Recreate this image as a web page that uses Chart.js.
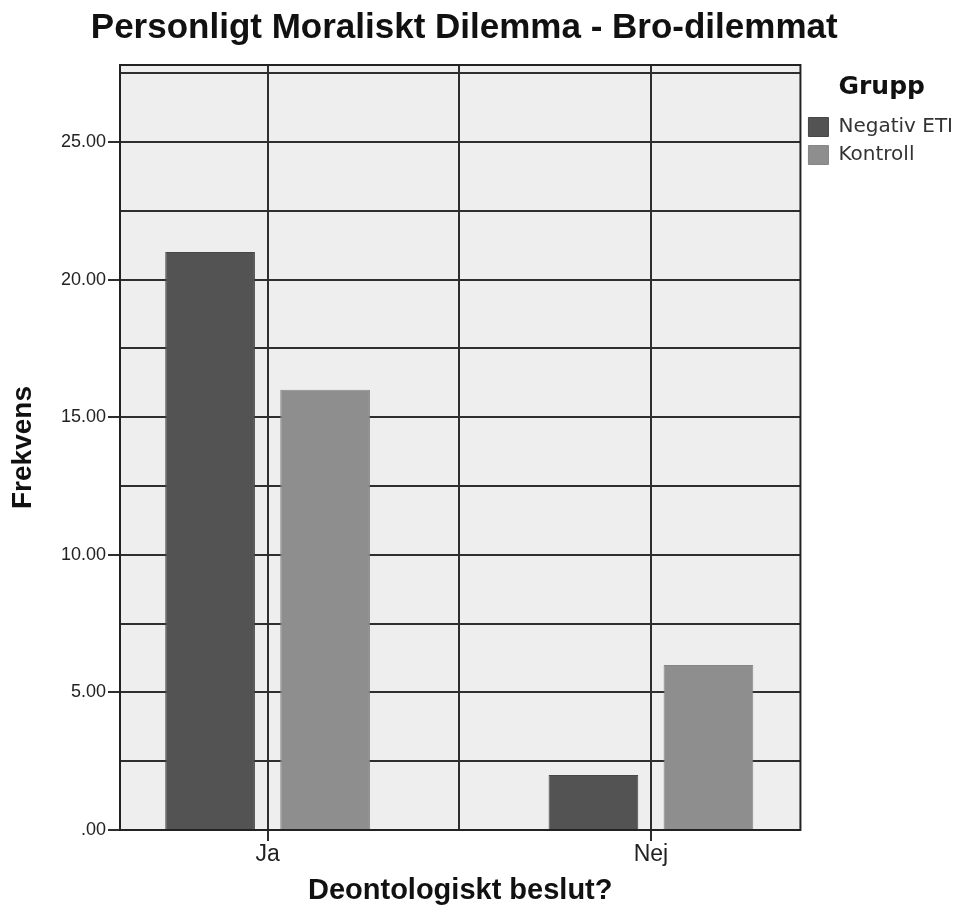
<!DOCTYPE html>
<html>
<head>
<meta charset="utf-8">
<title>Personligt Moraliskt Dilemma - Bro-dilemmat</title>
<script src="https://cdn.jsdelivr.net/npm/chart.js@4/dist/chart.umd.min.js"></script>
<style>
    html, body { margin: 0; padding: 0; background: #ffffff; }
    #wrap { width: 966px; height: 908px; }
</style>
</head>
<body>
<div id="wrap"><canvas id="moralChart" width="966" height="908"></canvas></div>
<script>
// Values
const categories = ['Ja', 'Nej'];
const seriesNames = ['Negativ ETI', 'Kontroll'];
const negativEti = [21, 2];
const kontroll = [16, 6];
const yTicks = [0, 2.5, 5, 7.5, 10, 12.5, 15, 17.5, 20, 22.5, 25, 27.5];
const yLabelTicks = [0, 5, 10, 15, 20, 25];
const yMax = 27.8;

const GRID = '#2e2e2e';
const NONE = 'rgba(0,0,0,0)';

Chart.defaults.font.family = "'Liberation Sans', Arial, sans-serif";

// SPSS style ".00" labels
function formatTick(v) {
    return v === 0 ? '.00' : v.toFixed(2);
}

// light grey plot background + dark frame around the plot area,
// and the main title centred over the plot instead of the whole canvas
const plotFrame = {
    id: 'plotFrame',
    afterLayout(chart) {
        const a = chart.chartArea;
        const t = chart.titleBlock;
        if (!t) return;
        const mid = (a.left + a.right) / 2 + 4;
        const half = (t.right - t.left) / 2;
        t.left = mid - half;
        t.right = mid + half;
    },
    beforeDraw(chart) {
        const { ctx, chartArea: a } = chart;
        ctx.save();
        ctx.fillStyle = '#eeeeee';
        ctx.fillRect(a.left, a.top, a.width, a.height);
        ctx.restore();
    },
    afterDatasetsDraw(chart) {
        const { ctx, chartArea: a } = chart;
        ctx.save();
        ctx.strokeStyle = '#222222';
        ctx.lineWidth = 2;
        ctx.strokeRect(a.left, a.top, a.width, a.height);
        ctx.restore();
    }
};

function toPoints(values) {
    return values.map((v, i) => ({ x: i, y: v }));
}

// category positions plus the separator between them
const xTicks = [];
categories.forEach((c, i) => {
    xTicks.push(i);
    if (i < categories.length - 1) xTicks.push(i + 0.5);
});

new Chart(document.getElementById('moralChart'), {
    type: 'bar',
    data: {
        datasets: [{
            label: seriesNames[0],
            data: toPoints(negativEti),
            backgroundColor: '#535353',
            borderColor: '#474747',
            borderWidth: 1
        }, {
            label: seriesNames[1],
            data: toPoints(kontroll),
            backgroundColor: '#8e8e8e',
            borderColor: '#858585',
            borderWidth: 1
        }]
    },
    options: {
        responsive: false,
        animation: false,
        // tick spacing (half a category) drives the bar ruler
        categoryPercentage: 1.2,
        barPercentage: 0.78,
        layout: { padding: { top: 7, right: 3, bottom: 0, left: 0 } },
        plugins: {
            tooltip: { enabled: false },
            title: {
                display: true,
                text: 'Personligt Moraliskt Dilemma - Bro-dilemmat',
                color: '#111111',
                font: { size: 35, weight: 'bold' },
                padding: { top: 0, bottom: 16 }
            },
            legend: {
                position: 'right',
                align: 'start',
                fullSize: false,
                title: {
                    display: true,
                    text: 'Grupp',
                    color: '#111111',
                    font: { family: "'DejaVu Sans', sans-serif", size: 25, weight: 'bold' },
                    padding: { top: 10, bottom: 4 }
                },
                labels: {
                    boxWidth: 20,
                    boxHeight: 19,
                    padding: 8,
                    color: '#333333',
                    font: { family: "'DejaVu Sans', sans-serif", size: 20 }
                }
            }
        },
        scales: {
            x: {
                type: 'linear',
                min: -0.385,
                max: 1.39,
                offset: false,
                afterBuildTicks: s => { s.ticks = xTicks.map(v => ({ value: v })); },
                afterFit: s => { s.height = 78; },
                border: { display: false },
                grid: {
                    offset: false,
                    color: GRID,
                    lineWidth: 2,
                    tickLength: 11,
                    tickColor: ctx => Number.isInteger(ctx.tick.value) ? GRID : NONE
                },
                ticks: {
                    autoSkip: false,
                    maxRotation: 0,
                    padding: 0,
                    color: '#222222',
                    font: { size: 23 },
                    callback: v => categories[v] ?? ''
                },
                title: {
                    display: true,
                    text: 'Deontologiskt beslut?',
                    color: '#111111',
                    font: { size: 29, weight: 'bold' },
                    padding: { top: 0, bottom: 0 }
                }
            },
            y: {
                min: 0,
                max: yMax,
                afterBuildTicks: s => { s.ticks = yTicks.map(v => ({ value: v })); },
                afterFit: s => { s.width = 120; },
                border: { display: false },
                grid: {
                    color: GRID,
                    lineWidth: 2,
                    tickLength: 12,
                    tickColor: ctx => yLabelTicks.includes(ctx.tick.value) ? GRID : NONE
                },
                ticks: {
                    autoSkip: false,
                    padding: 2,
                    color: '#222222',
                    font: { size: 18 },
                    callback: v => yLabelTicks.includes(v) ? formatTick(v) : ''
                },
                title: {
                    display: true,
                    text: 'Frekvens',
                    color: '#111111',
                    font: { size: 28, weight: 'bold' },
                    padding: { top: 6, bottom: 0 }
                }
            }
        }
    },
    plugins: [plotFrame]
});
</script>
</body>
</html>
